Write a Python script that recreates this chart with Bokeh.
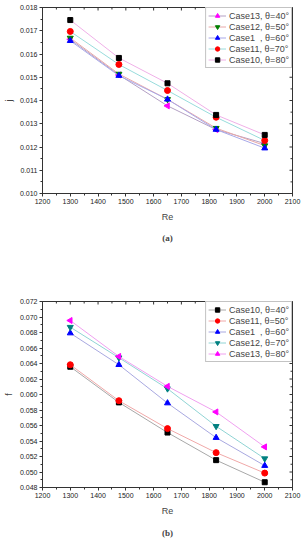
import numpy as np
from bokeh.plotting import figure
from bokeh.layouts import column
from bokeh.models import (Range1d, Legend, LegendItem, Title,
                          FixedTicker, PrintfTickFormatter)
from bokeh.embed import file_html
from bokeh.resources import INLINE

# ---------------- data ----------------
re_vals = [1300, 1475, 1650, 1825, 2000]

# (a) j factor
j_case13 = [0.01663, 0.01510, 0.01377, 0.01275, 0.01215]
j_case12 = [0.01669, 0.01514, 0.01405, 0.01281, 0.01206]
j_case1 = [0.01657, 0.01507, 0.01405, 0.01275, 0.01195]
j_case11 = [0.01697, 0.01555, 0.01443, 0.01328, 0.01228]
j_case10 = [0.01746, 0.01583, 0.01474, 0.01338, 0.01252]

# (b) f factor
f_case10 = [0.06358, 0.05898, 0.05509, 0.05153, 0.04868]
f_case11 = [0.06384, 0.05920, 0.05560, 0.05250, 0.04986]
f_case1 = [0.06792, 0.06384, 0.05889, 0.05443, 0.05082]
f_case12 = [0.06869, 0.06475, 0.06075, 0.05590, 0.05173]
f_case13 = [0.06955, 0.06491, 0.06105, 0.05775, 0.05324]

labels_a = ["Case13, \u03b8=40\u00b0", "Case12, \u03b8=50\u00b0", "Case1  , \u03b8=60\u00b0",
            "Case11, \u03b8=70\u00b0", "Case10, \u03b8=80\u00b0"]
labels_b = ["Case10, \u03b8=40\u00b0", "Case11, \u03b8=50\u00b0", "Case1  , \u03b8=60\u00b0",
            "Case12, \u03b8=70\u00b0", "Case13, \u03b8=80\u00b0"]

x_lim = (1200, 2100)
x_step = 100

FONT = "Liberation Sans"
AX = "#333333"


def ticks(lo, hi, step, ndec):
    n = int(round((hi - lo) / step))
    return [round(lo + i * step, ndec) for i in range(n + 1)]


def style_axes(p, yr, y_step):
    xmaj = ticks(x_lim[0], x_lim[1], x_step, 6)
    xmin = ticks(x_lim[0], x_lim[1], x_step / 2.0, 6)
    ymaj = ticks(yr[0], yr[1], y_step, 6)
    ymin = ticks(yr[0], yr[1], y_step / 2.0, 6)
    p.xaxis.ticker = FixedTicker(ticks=xmaj, minor_ticks=xmin)
    p.yaxis.ticker = FixedTicker(ticks=ymaj, minor_ticks=ymin)
    p.yaxis.formatter = PrintfTickFormatter(format="%.3f")
    for ax in p.axis:
        ax.major_label_text_font = FONT
        ax.major_label_text_font_size = "7px"
        ax.major_label_text_color = "#222222"
        ax.axis_label_text_font = FONT
        ax.axis_label_text_font_size = "9px"
        ax.axis_label_text_font_style = "normal"
        ax.axis_line_color = AX
        ax.major_tick_line_color = AX
        ax.minor_tick_line_color = AX
        ax.major_tick_in = 0
        ax.major_tick_out = 3
        ax.minor_tick_in = 0
        ax.minor_tick_out = 2
        ax.major_label_standoff = 2
    p.xgrid.visible = False
    p.ygrid.visible = False
    p.outline_line_color = AX
    # inward ticks on top and right edges (clipped to the frame)
    xsz = [6 if v in xmaj else 4 for v in xmin]
    ysz = [6 if i % 2 == 0 else 4 for i in range(len(ymin))]
    p.scatter(x=xmin, y=[yr[1]] * len(xmin), marker="dash", angle=np.pi / 2, size=xsz,
              line_color=AX, line_width=1)
    p.scatter(x=[x_lim[1]] * len(ymin), y=ymin, marker="dash", angle=0, size=ysz,
              line_color=AX, line_width=1)


def make_plot(series, ylabel, yr, y_step, caption, fh, top_border,
              bottom_border, cap_standoff):
    p = figure(frame_width=250, frame_height=fh, output_backend="svg",
               toolbar_location=None, x_range=Range1d(*x_lim), y_range=Range1d(*yr),
               min_border_left=42, min_border_right=10, min_border_top=top_border,
               min_border_bottom=bottom_border, background_fill_color="white")
    p.xaxis.axis_label = "Re"
    p.yaxis.axis_label = ylabel
    p.xaxis.axis_label_standoff = 5
    p.yaxis.axis_label_standoff = 3
    style_axes(p, yr, y_step)
    items = []
    for (vals, lab, mk, mcol, lcol, ang) in series:
        ln = p.line(re_vals, vals, line_color=lcol, line_width=1)
        sz = 5 if mk == "square" else 6
        sc = p.scatter(re_vals, vals, marker=mk, size=sz, fill_color=mcol,
                       line_color=mcol, angle=ang)
        items.append(LegendItem(label=lab, renderers=[ln, sc]))
    leg = Legend(items=items, location="top_right", margin=0, padding=2, spacing=0,
                 glyph_width=18, glyph_height=11, label_height=11, label_standoff=3,
                 label_text_font=FONT, label_text_font_size="9px",
                 border_line_color="#888888", border_line_width=1,
                 background_fill_color="white", background_fill_alpha=1.0)
    p.add_layout(leg, "center")
    cap = Title(text=caption, align="center", text_font="Liberation Serif",
                text_font_style="bold", text_font_size="9px", standoff=cap_standoff)
    p.add_layout(cap, "below")
    return p


series_a = [
    (j_case13, labels_a[0], "triangle", "#ff00ff", "#b4a0c4", np.pi / 2),
    (j_case12, labels_a[1], "inverted_triangle", "#007f00", "#e8a8a8", 0.0),
    (j_case1, labels_a[2], "triangle", "#0000ff", "#a8a8e8", 0.0),
    (j_case11, labels_a[3], "circle", "#ff0000", "#98dcdc", 0.0),
    (j_case10, labels_a[4], "square", "#000000", "#f0b0e8", 0.0),
]
series_b = [
    (f_case10, labels_b[0], "square", "#000000", "#a8a8a8", 0.0),
    (f_case11, labels_b[1], "circle", "#ff0000", "#f0a8a8", 0.0),
    (f_case1, labels_b[2], "triangle", "#0000ff", "#a8a8e0", 0.0),
    (f_case12, labels_b[3], "inverted_triangle", "#008080", "#90d4d4", 0.0),
    (f_case13, labels_b[4], "triangle", "#ff00ff", "#f0a0f0", np.pi / 2),
]

p1 = make_plot(series_a, "j", (0.010, 0.018), 0.001, "(a)", 186, 7, 62, 13)
p2 = make_plot(series_b, "f", (0.048, 0.072), 0.002, "(b)", 186, 46, 62, 14)

layout = column(p1, p2, spacing=0)
open("out.html", "w").write(file_html(layout, INLINE))
